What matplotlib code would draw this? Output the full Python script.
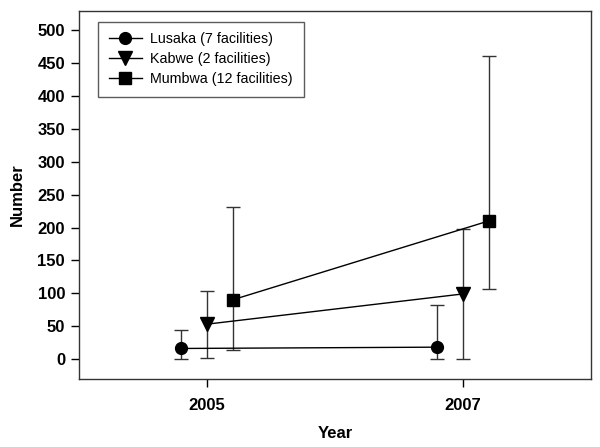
import numpy as np
import matplotlib
matplotlib.use("Agg")
import matplotlib.pyplot as plt

plt.rcParams['font.family'] = ['Liberation Sans', 'DejaVu Sans']

# ---- data ----
years = [2005, 2007]
offsets = [-0.2, 0.0, 0.2]
labels = ['Lusaka (7 facilities)', 'Kabwe (2 facilities)', 'Mumbwa (12 facilities)']
markers = ['o', 'v', 's']
msizes = [8.5, 9.5, 8]

lusaka = [16, 18]
lusaka_lo = [0, 0]
lusaka_hi = [44, 82]

kabwe = [53, 99]
kabwe_lo = [1, 0]
kabwe_hi = [104, 198]

mumbwa = [90, 210]
mumbwa_lo = [14, 106]
mumbwa_hi = [231, 461]

means = [lusaka, kabwe, mumbwa]
lows = [lusaka_lo, kabwe_lo, mumbwa_lo]
highs = [lusaka_hi, kabwe_hi, mumbwa_hi]

fig = plt.figure(figsize=(6, 4.47), dpi=100)
ax = fig.add_axes([79 / 600, 1 - 378.7 / 447, 512 / 600, 368 / 447])

for i in range(3):
    x = np.array(years) + offsets[i]
    y = np.array(means[i])
    yerr = [y - np.array(lows[i]), np.array(highs[i]) - y]
    ax.errorbar(x, y, yerr=yerr, fmt='none', ecolor='#333333', elinewidth=1,
                capsize=5, capthick=1, zorder=1)
    ax.plot(x, y, color='black', lw=1, marker=markers[i], ms=msizes[i],
            mfc='black', mec='black', label=labels[i], zorder=3)

ax.set_xlim(2004, 2008)
ax.set_ylim(-30, 530)
ax.set_xticks(years)
ax.set_yticks(np.arange(0, 501, 50))
ax.tick_params(direction='out', length=6, width=1, labelsize=12, pad=4)
for lab in ax.get_xticklabels() + ax.get_yticklabels():
    lab.set_fontweight('bold')
ax.tick_params(axis='x', pad=8)

for sp in ax.spines.values():
    sp.set_color('#333333')
    sp.set_linewidth(1)

ax.set_xlabel('Year', fontsize=12, fontweight='bold', labelpad=9)
ax.set_ylabel('Number', fontsize=12, fontweight='bold', labelpad=9)

leg = ax.legend(loc='upper left', bbox_to_anchor=(19 / 512, 1 - 11 / 368),
                borderaxespad=0, fontsize=10.3,
                frameon=True, fancybox=False, edgecolor='#333333',
                handlelength=2.3, borderpad=0.75, labelspacing=0.42,
                handletextpad=0.6)
leg.get_frame().set_linewidth(1)

fig.savefig('out.png', dpi=100)
